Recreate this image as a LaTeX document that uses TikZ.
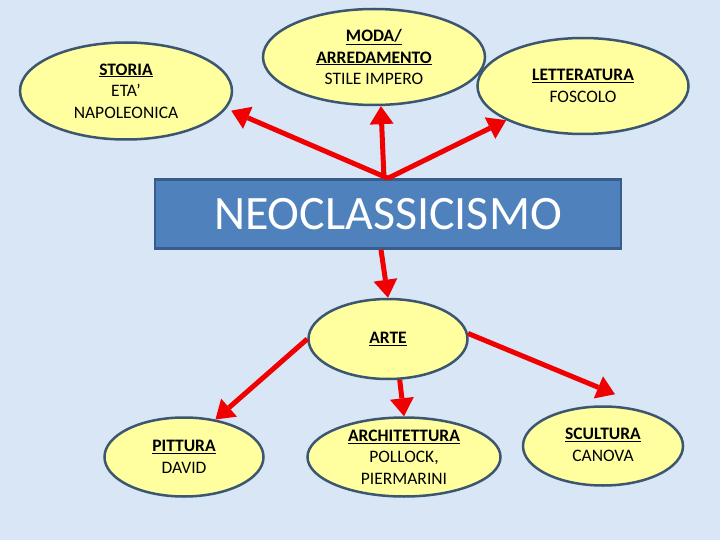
\documentclass[tikz,border=0pt]{standalone}
\usepackage{fontspec}
\setmainfont{Carlito}
\usetikzlibrary{shapes.geometric,arrows.meta}
\definecolor{bgblue}{RGB}{216,230,246}
\definecolor{bubblefill}{RGB}{255,255,160}
\definecolor{bubbleline}{RGB}{60,86,112}
\definecolor{rectfill}{RGB}{79,129,189}
\definecolor{rectline}{RGB}{56,93,138}
\definecolor{arrowred}{RGB}{240,0,0}
\newcommand{\ttl}[1]{\underline{\textbf{#1}}}

\begin{document}
\begin{tikzpicture}[x=1pt,y=-1pt,
    bubble/.style={shape=ellipse,draw=bubbleline,line width=2.5pt,fill=bubblefill,
      inner sep=0pt,align=center,font=\fontsize{17.5}{21.5}\selectfont},
    arr/.style={draw=arrowred,fill=arrowred,line width=5pt,
      -{Triangle[length=18pt,width=24pt,line width=0pt]}}]
        \fill[bgblue] (0,0) rectangle (720,540);

        \node[bubble,minimum width=212pt,minimum height=97pt] (storia) at (126,91) {\ttl{STORIA}\\ETA’\\NAPOLEONICA};
        \node[bubble,minimum width=222pt,minimum height=96pt] (moda) at (374,57) {\ttl{MODA/}\\\ttl{ARREDAMENTO}\\STILE IMPERO};
        \node[bubble,minimum width=211pt,minimum height=96pt] (letteratura) at (583,86) {\ttl{LETTERATURA}\\FOSCOLO};
        \node[shape=rectangle,draw=rectline,fill=rectfill,line width=2.5pt,minimum width=466pt,minimum height=69pt,
          text=white,font=\fontsize{48}{58}\selectfont] (neo) at (388,214) {NEOCLASSICISMO};
        \node[bubble,minimum width=159pt,minimum height=80pt] (arte) at (388,339) {\ttl{ARTE}};
        \node[bubble,minimum width=159pt,minimum height=79pt] (pittura) at (184,457) {\ttl{PITTURA}\\DAVID};
        \node[bubble,minimum width=193pt,minimum height=79pt] (architettura) at (404,457) {\ttl{ARCHITETTURA}\\POLLOCK,\\PIERMARINI};
        \node[bubble,minimum width=160pt,minimum height=79pt] (scultura) at (603,446)
          {\raisebox{11pt}{\begin{tabular}{@{}c@{}}\ttl{SCULTURA}\\CANOVA\end{tabular}}};

        \coordinate (hub) at (neo.north);

        \draw[arr] (hub) -- ([shift={(5pt,-2pt)}]storia.-10);
        \draw[arr] ([xshift=-4pt]hub) -- (moda.-82);
        \draw[arr] (hub) -- (letteratura.-156);
        \draw[arr] ([xshift=-7pt]neo.south) -- (arte.north);
        \draw[arr] (arte.west) -- (pittura.50);
        \draw[arr] (arte.-74) -- (architettura.north);
        \draw[arr] (arte.4) -- ([shift={(12pt,11pt)}]scultura.north);
\end{tikzpicture}
\end{document}
